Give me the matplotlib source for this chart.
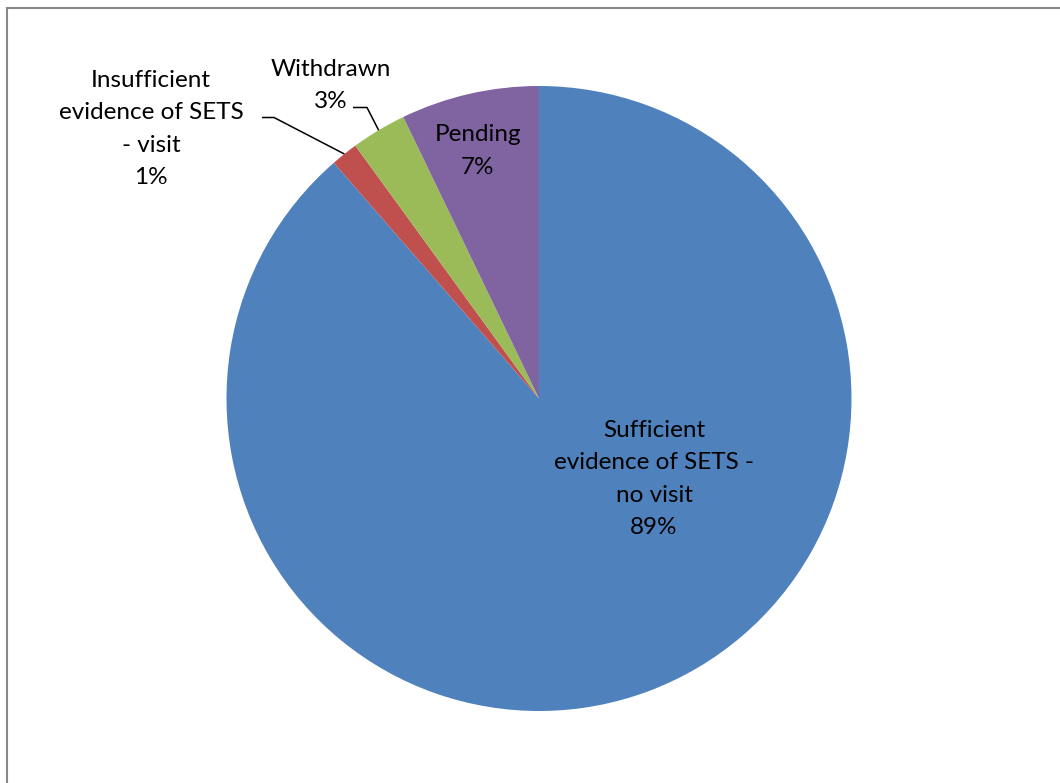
import numpy as np
import matplotlib
matplotlib.use("Agg")
import matplotlib.pyplot as plt
from matplotlib.patches import Rectangle

categories = ["Sufficient\nevidence of SETS -\nno visit",
              "Insufficient\nevidence of SETS\n- visit",
              "Withdrawn",
              "Pending"]
values = [88.6, 1.4, 2.85, 7.15]
pct_labels = ["89%", "1%", "3%", "7%"]
colors = ["#4F81BD", "#C0504D", "#9BBB59", "#8064A2"]

W, H = 1060, 783
fig = plt.figure(figsize=(W / 100, H / 100), dpi=100)
ax = fig.add_axes([0, 0, 1, 1])

cx, cy, R = 539, H - 398.5, 312.5
wedges, _ = ax.pie(values, colors=colors, startangle=90, counterclock=False,
                   radius=R, center=(cx, cy), frame=False,
                   wedgeprops=dict(linewidth=0))
ax.set_xlim(0, W)
ax.set_ylim(0, H)
ax.set_aspect("equal")
ax.axis("off")

# chart frame
fig.patches.append(Rectangle((7 / W, -0.01), 1.1, (H - 8) / H + 0.01,
                             transform=fig.transFigure, fill=False,
                             edgecolor="#878787", linewidth=1.5))

font = dict(family=["Lato", "DejaVu Sans"], fontsize=17.5, color="black",
            ha="center", va="center", linespacing=1.68)

# label positions (image pixel coords, y down)
label_pos = [(654, 479), (151, 129), (331, 85.5), (478, 151)]
for i, (lx, ly) in enumerate(label_pos):
    ax.text(lx, H - ly, categories[i] + "\n" + pct_labels[i], **font)

# leader lines for outside labels
def rim_point(idx):
    w = wedges[idx]
    mid = np.deg2rad((w.theta1 + w.theta2) / 2)
    return cx + R * np.cos(mid), cy + R * np.sin(mid)

# Insufficient
ex, ey = rim_point(1)
ax.plot([262, 274, ex], [H - 117.5, H - 117.5, ey], color="black", lw=1.1,
        solid_capstyle="butt")
# Withdrawn
ex, ey = rim_point(2)
ax.plot([353, 367, ex], [H - 107.5, H - 107.5, ey], color="black", lw=1.1,
        solid_capstyle="butt")

fig.savefig("out.png", dpi=100, facecolor="white")
